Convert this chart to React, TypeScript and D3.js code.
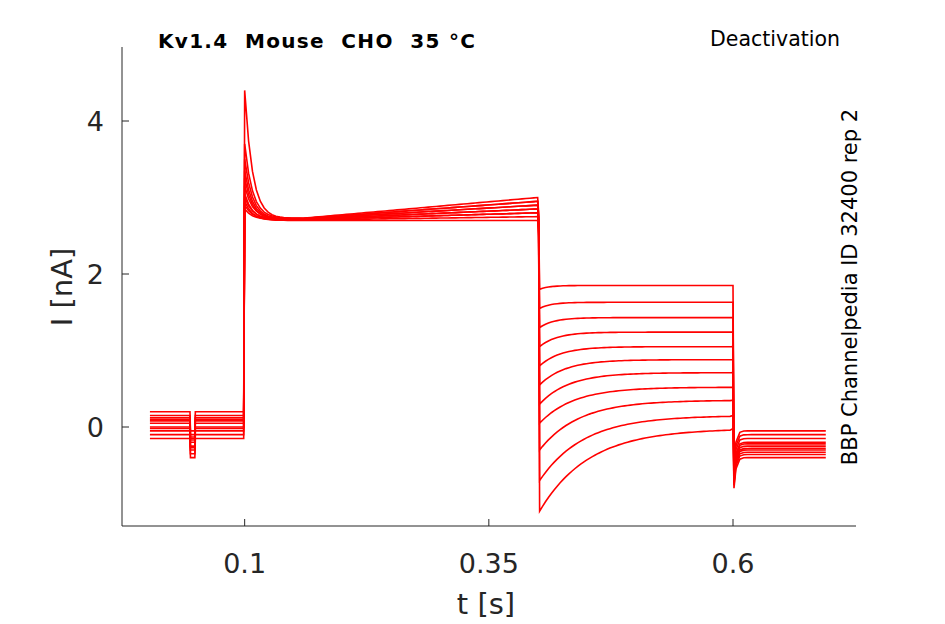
import React from "react";
import * as d3 from "d3";

// per-trace key values (nA)
const peaks = [4.4, 3.7, 3.5, 3.35, 3.25, 3.15, 3.05, 3.0, 2.95, 2.9, 2.85];
const steadyEnd = [2.95, 3.0, 2.9, 2.85, 2.8, 2.95, 2.75, 2.9, 2.7, 2.85, 2.8];
const holding = [0.2, 0.15, 0.1, 0.05, 0.0, -0.05, -0.1, -0.15, 0.08, -0.02, 0.12];
const tailStart = [1.8, 1.55, 1.3, 1.05, 0.8, 0.55, 0.3, 0.05, -0.3, -0.7, -1.1];
const tailEnd = [1.85, 1.63, 1.43, 1.24, 1.05, 0.88, 0.71, 0.52, 0.35, 0.15, -0.02];
const tailTau = [0.01, 0.012, 0.015, 0.018, 0.022, 0.026, 0.03, 0.035, 0.04, 0.045, 0.05];
const postLevel = [-0.05, -0.1, -0.15, -0.2, -0.22, -0.25, -0.28, -0.3, -0.33, -0.36, -0.4];
const xTicks = [0.1, 0.35, 0.6];
const yTicks = [0, 2, 4];

const W = 945, H = 624;
const x = d3.scaleLinear().domain([0, 0.6]).range([147, 733]);
const y = d3.scaleLinear().domain([0, 4]).range([427, 121]);

function trace(i: number): [number, number][] {
  const pts: [number, number][] = [];
  const h = holding[i];
  for (let t = 0.003; t < 0.044; t += 0.004) pts.push([t, h]);
  pts.push([0.044, h], [0.0445, h - 0.25], [0.049, h - 0.25], [0.0495, h], [0.099, h]);
  const plateau0 = 2.7 + (steadyEnd[i] - 2.7) * 0.1;
  for (let t = 0.1; t <= 0.4; t += 0.004) {
    const fast = (peaks[i] - plateau0) * Math.exp(-(t - 0.1) / 0.008);
    const slow = (steadyEnd[i] - plateau0) * Math.max(0, (t - 0.16) / 0.24);
    pts.push([t, plateau0 + fast + slow]);
  }
  pts.push([0.4, steadyEnd[i]], [0.401, steadyEnd[i] - 0.2]);
  for (let t = 0.402; t <= 0.6; t += 0.003) {
    pts.push([t, tailEnd[i] + (tailStart[i] - tailEnd[i]) * Math.exp(-(t - 0.402) / tailTau[i])]);
  }
  pts.push([0.6, tailEnd[i]], [0.601, postLevel[i] - 0.4]);
  for (let t = 0.603; t <= 0.698; t += 0.004) {
    pts.push([t, postLevel[i] + (-0.4) * Math.exp(-(t - 0.601) / 0.002)]);
  }
  return pts;
}

export default function App() {
  const line = d3.line<[number, number]>().x(d => x(d[0])).y(d => y(d[1]));
  const font = "DejaVu Sans, sans-serif";
  return (
    <svg width={W} height={H} style={{ display: "block", position: "absolute", left: 0, top: 0 }} fontFamily={font}>
      <rect width={W} height={H} fill="white" />
      {peaks.map((_, i) => (
        <path key={i} d={line(trace(i)) || ""} fill="none" stroke="#ff0000" strokeWidth={1.6} />
      ))}
      <line x1={122} x2={122} y1={47} y2={526} stroke="#262626" />
      <line x1={122} x2={856} y1={526} y2={526} stroke="#262626" />
      {xTicks.map(t => (
        <g key={t}>
          <line x1={x(t)} x2={x(t)} y1={526} y2={519} stroke="#262626" />
          <text x={x(t)} y={573} textAnchor="middle" fontSize={27} fill="#262626">{t}</text>
        </g>
      ))}
      {yTicks.map(v => (
        <g key={v}>
          <line x1={122} x2={129} y1={y(v)} y2={y(v)} stroke="#262626" />
          <text x={104} y={y(v) + 10} textAnchor="end" fontSize={27} fill="#262626">{v}</text>
        </g>
      ))}
      <text x={486} y={614} textAnchor="middle" fontSize={29} fill="#262626">t [s]</text>
      <text transform="translate(72,287) rotate(-90)" textAnchor="middle" fontSize={29} fill="#262626">I [nA]</text>
      <text x={158} y={48} fontSize={20} fontWeight="bold" fill="#000" letterSpacing={1.3} style={{ whiteSpace: "pre" }}>{"Kv1.4  Mouse  CHO  35 °C"}</text>
      <text x={840} y={46} textAnchor="end" fontSize={20.5} fill="#000">Deactivation</text>
      <text transform="translate(857,287) rotate(-90)" textAnchor="middle" fontSize={21} fill="#000">BBP Channelpedia ID 32400 rep 2</text>
    </svg>
  );
}
